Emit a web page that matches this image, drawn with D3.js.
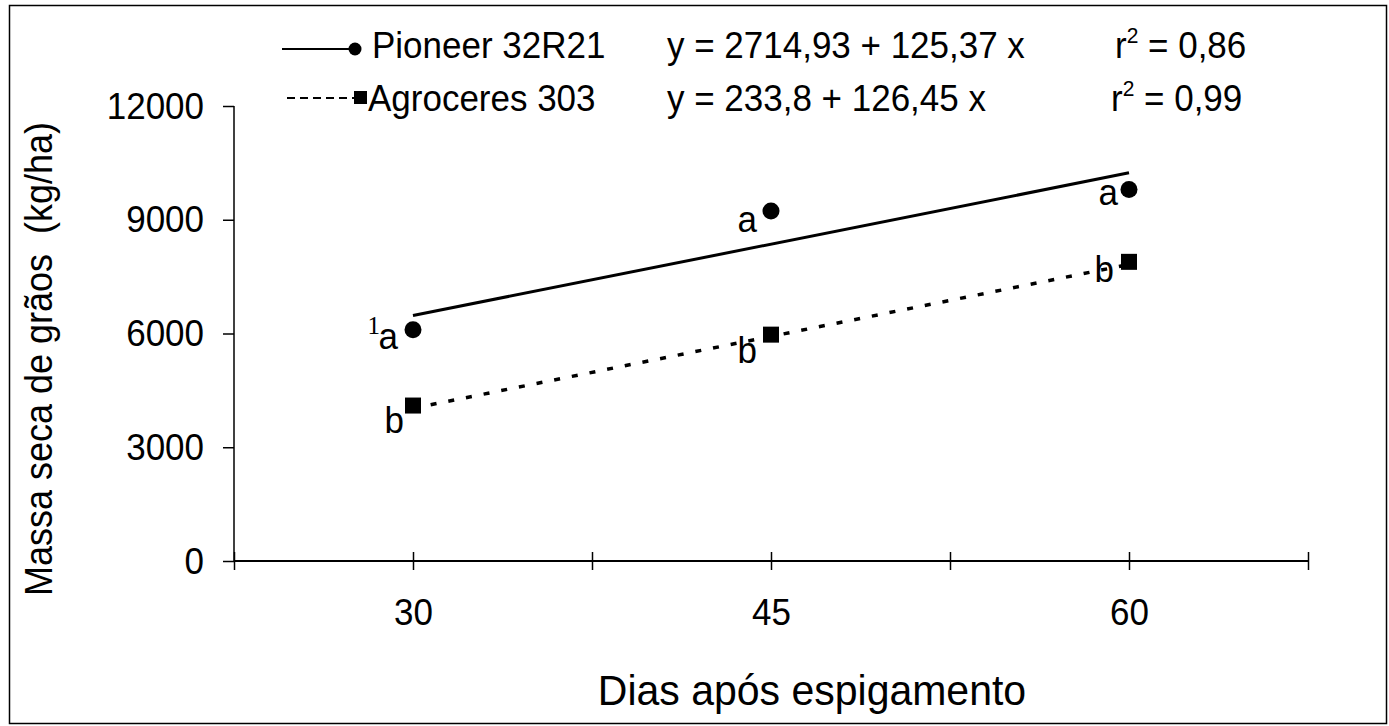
<!DOCTYPE html>
<html><head><meta charset="utf-8">
<script src="https://cdn.jsdelivr.net/npm/d3@7"></script>
<style>
html,body{margin:0;padding:0;background:#fff;}
svg{display:block;font-family:"Liberation Sans",Arial,sans-serif;}
</style></head>
<body><svg id="c" width="1389" height="726"></svg>
<script>
// ---- data ----
const days = [30, 45, 60];
const xTickValues = [22.5, 30, 37.5, 45, 52.5, 60, 67.5];
const xTickLabels = [30, 45, 60];
const yTickValues = [0, 3000, 6000, 9000, 12000];
const pioneer = [6100, 9230, 9800];
const agroceres = [4100, 5970, 7890];
const pioneerLetters = ["a", "a", "a"];
const agroLetters = ["b", "b", "b"];
const pioneerFit = [2714.93, 125.37];
const agroFit = [233.8, 126.45];
const seriesNames = ["Pioneer 32R21", "Agroceres 303"];
const equations = ["y = 2714,93 + 125,37 x", "y = 233,8 + 126,45 x"];
const r2 = ["0,86", "0,99"];
const xTitle = "Dias após espigamento";
const yTitle = "Massa seca de grãos  (kg/ha)";

// ---- layout ----
const svg = d3.select("#c");
const x = d3.scaleLinear().domain([22.5, 67.5]).range([234, 1308]);
const y = d3.scaleLinear().domain([0, 12000]).range([561, 106]);
const fs = 35;
const SY = 1.08; // vertical stretch of glyphs

// text helper: places text at (px,py) with vertical stretch
function stext(sel, px, py, str, size, anchor, sy) {
  return sel.append("text")
    .attr("transform", `translate(${px},${py}) scale(1,${sy || SY})`)
    .attr("text-anchor", anchor || "start").attr("font-size", size || fs).text(str);
}

svg.append("rect").attr("x", 9.5).attr("y", 5.5).attr("width", 1377).attr("height", 718)
  .attr("fill", "none").attr("stroke", "#000").attr("stroke-width", 1.5);

// y axis
const yAxis = svg.append("g").attr("transform", `translate(${x.range()[0]},0)`)
  .call(d3.axisLeft(y).tickValues(yTickValues).tickSize(11).tickPadding(19).tickFormat(d3.format("d")));
yAxis.select(".domain").attr("stroke-width", 1.5).attr("d", `M0,${y(12000)}V${y(0)}`);
yAxis.selectAll(".tick line").attr("stroke-width", 1.5);
yAxis.selectAll("text").attr("font-size", fs).attr("font-family", "Liberation Sans, Arial")
  .attr("fill", "#000").attr("transform", `scale(1,${SY})`);

// x axis
const xAxis = svg.append("g").attr("transform", `translate(0,${y(0)})`)
  .call(d3.axisBottom(x).tickValues(xTickValues).tickSize(9)
    .tickFormat(d => xTickLabels.includes(d) ? d : ""));
xAxis.select(".domain").attr("stroke-width", 2).attr("d", `M${x.range()[0]},0H${x.range()[1]}`);
xAxis.selectAll(".tick line").attr("y1", -9).attr("y2", 9).attr("stroke-width", 1.5);
xAxis.selectAll("text").attr("font-size", fs).attr("font-family", "Liberation Sans, Arial")
  .attr("fill", "#000").attr("dy", null).attr("y", 0)
  .attr("transform", `translate(0,64) scale(1,${SY})`);

// axis titles
stext(svg, 812, 705, xTitle, 41, "middle", 1.05);
svg.append("text").attr("transform", "translate(52,359) rotate(-90)").attr("text-anchor", "middle")
  .attr("font-size", 36).style("white-space", "pre").text(yTitle)
  .attr("transform", "translate(52,359) rotate(-90) scale(1.0,1.08)");

// regression lines
const line = d3.line().x(d => x(d[0])).y(d => y(d[1]));
const fitPts = f => [days[0], days[days.length - 1]].map(d => [d, f[0] + f[1] * d]);
svg.append("path").attr("d", line(fitPts(pioneerFit))).attr("fill", "none")
  .attr("stroke", "#000").attr("stroke-width", 3);
svg.append("path").attr("d", line(fitPts(agroFit))).attr("fill", "none")
  .attr("stroke", "#000").attr("stroke-width", 3.5).attr("stroke-dasharray", "6,12");

// markers
svg.selectAll(".pc").data(days).enter().append("circle")
  .attr("cx", d => x(d)).attr("cy", (d, i) => y(pioneer[i])).attr("r", 8.5).attr("fill", "#000");
const sq = 16;
svg.selectAll(".ps").data(days).enter().append("rect")
  .attr("x", d => x(d) - sq / 2).attr("y", (d, i) => y(agroceres[i]) - sq / 2)
  .attr("width", sq).attr("height", sq).attr("fill", "#000");

// point letters
const aOff = [[-15, 19], [-14, 21], [-11, 16]];
const bOff = [[-9, 27], [-14, 28], [-15, 20]];
days.forEach((d, i) => {
  stext(svg, x(d) + aOff[i][0], y(pioneer[i]) + aOff[i][1], pioneerLetters[i], fs, "end");
  stext(svg, x(d) + bOff[i][0], y(agroceres[i]) + bOff[i][1], agroLetters[i], fs, "end");
});
// footnote marker
svg.append("text").attr("x", x(days[0]) - 33).attr("y", y(pioneer[0]) + 4)
  .attr("text-anchor", "end").attr("font-family", "Liberation Serif, Times New Roman, serif")
  .attr("font-size", 25).text("1");

// legend
const leg = svg.append("g");
const rows = [49, 98];
leg.append("line").attr("x1", 282).attr("x2", 352).attr("y1", rows[0]).attr("y2", rows[0])
  .attr("stroke", "#000").attr("stroke-width", 2);
leg.append("circle").attr("cx", 355).attr("cy", rows[0]).attr("r", 6.5).attr("fill", "#000");
leg.append("line").attr("x1", 287).attr("x2", 354).attr("y1", rows[1]).attr("y2", rows[1])
  .attr("stroke", "#000").attr("stroke-width", 2).attr("stroke-dasharray", "8,5");
leg.append("rect").attr("x", 354).attr("y", rows[1] - 7).attr("width", 13).attr("height", 13).attr("fill", "#000");
const textX = [372, 368];
seriesNames.forEach((n, i) => {
  const by = rows[i] + 9 + i * 4;
  stext(leg, textX[i], by, n);
  stext(leg, 667, by, equations[i]);
  const t = stext(leg, 1115 - i * 4, by, "");
  t.append("tspan").text("r");
  t.append("tspan").attr("font-size", 21).attr("dy", -14).text("2");
  t.append("tspan").attr("dy", 14).text(" = " + r2[i]);
});
</script></body></html>
